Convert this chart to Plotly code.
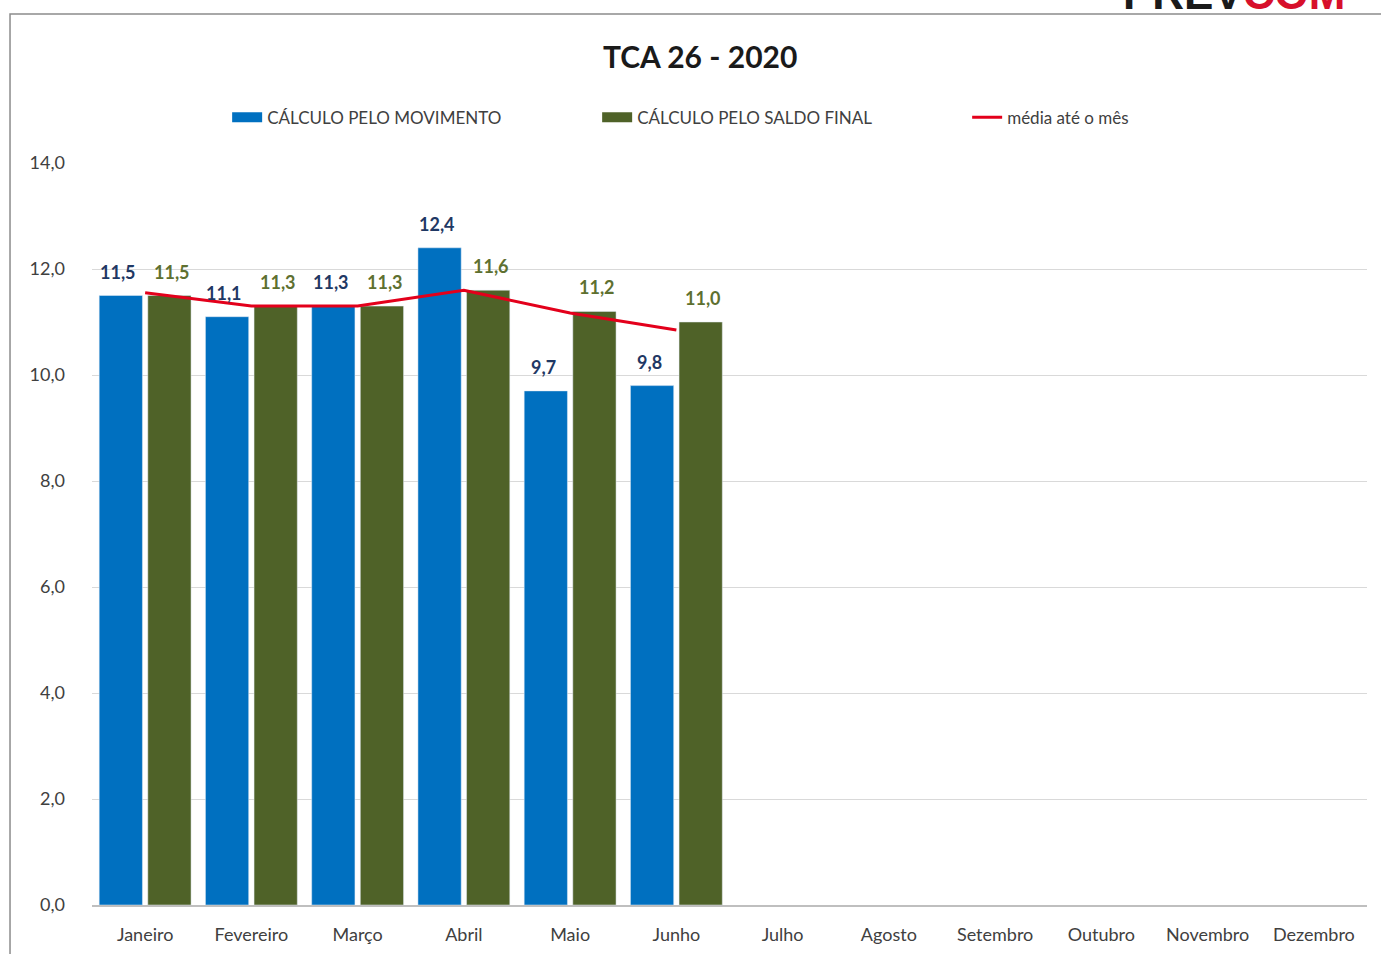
import plotly.graph_objects as go

meses = ["Janeiro", "Fevereiro", "Março", "Abril", "Maio", "Junho",
         "Julho", "Agosto", "Setembro", "Outubro", "Novembro", "Dezembro"]
movimento = [11.5, 11.1, 11.3, 12.4, 9.7, 9.8]
saldo_final = [11.5, 11.3, 11.3, 11.6, 11.2, 11.0]
media = [11.55, 11.3, 11.3, 11.6, 11.17, 10.85]

FONT = "Lato"
AZUL = "#0070C0"
VERDE = "#4F6228"
VERMELHO = "#E3001B"


def fmt(v):
    return f"{v:.1f}".replace(".", ",")


fig = go.Figure()
fig.add_trace(go.Bar(
    x=meses[:len(movimento)], y=movimento, name="CÁLCULO PELO MOVIMENTO",
    marker_color=AZUL, showlegend=False,
))
fig.add_trace(go.Bar(
    x=meses[:len(saldo_final)], y=saldo_final, name="CÁLCULO PELO SALDO FINAL",
    marker_color=VERDE, showlegend=False,
))
fig.add_trace(go.Scatter(
    x=meses[:len(media)], y=media, name="média até o mês", mode="lines",
    line=dict(color=VERMELHO, width=3), showlegend=False,
))

# rótulos de dados acima das barras
for serie, cor, desloc in [(movimento, "#1F3864", -27), (saldo_final, "#5E7030", 27)]:
    for mes, v in zip(meses, serie):
        fig.add_annotation(x=mes, y=v, xshift=desloc, yshift=24,
                           xanchor="center", yanchor="middle", showarrow=False,
                           text=f"<b>{fmt(v)}</b>",
                           font=dict(family=FONT, size=18, color=cor))

# entradas de legenda (retângulos largos como no Excel)
fig.add_trace(go.Scatter(x=[None], y=[None], mode="lines", name="CÁLCULO PELO MOVIMENTO",
                         line=dict(color=AZUL, width=11)))
fig.add_trace(go.Scatter(x=[None], y=[None], mode="lines", name="CÁLCULO PELO SALDO FINAL",
                         line=dict(color=VERDE, width=11)))
fig.add_trace(go.Scatter(x=[None], y=[None], mode="lines", name="média até o mês",
                         line=dict(color=VERMELHO, width=3)))

# moldura do gráfico
fig.add_shape(type="rect", xref="paper", yref="paper",
              x0=-0.0643, x1=1.05, y0=-0.2, y1=1.2008,
              line=dict(color="#8c8c8c", width=1.5), layer="below")

# logotipo cortado no topo
fig.add_annotation(xref="paper", yref="paper", x=0.984, y=1.193,
                   xanchor="right", yanchor="bottom", showarrow=False,
                   text="<b><span style='color:#1a1a1a'>PREV</span>"
                        "<span style='color:#d7102b'>COM</span></b>",
                   font=dict(family="Liberation Sans", size=44))

fig.update_layout(
    width=1381, height=954,
    paper_bgcolor="white", plot_bgcolor="white",
    separators=",.",
    title=dict(text="<b>TCA 26 - 2020</b>", x=0.507, xanchor="center",
               y=0.94, yanchor="middle",
               font=dict(family=FONT, size=30, color="#1a1a1a")),
    barmode="group", bargap=0.085, bargroupgap=0.11,
    margin=dict(l=92, r=14, t=163, b=49),
    font=dict(family=FONT, size=16, color="#404040"),
    legend=dict(orientation="h", x=0.106, xanchor="left", y=1.061,
                yanchor="middle", font=dict(family=FONT, size=17, color="#404040"),
                itemwidth=30, entrywidthmode="pixels", entrywidth=325,
                tracegroupgap=0),
    showlegend=True,
)
fig.update_xaxes(categoryorder="array", categoryarray=meses,
                 range=[-0.5, 11.5], showgrid=False, showline=True,
                 linecolor="#bfbfbf", linewidth=2, ticks="",
                 ticklabelstandoff=12, automargin=False,
                 tickfont=dict(family=FONT, size=18, color="#404040"))
fig.update_yaxes(range=[0, 14], dtick=2, tickformat=".1f",
                 showgrid=True, gridcolor="#d9d9d9", gridwidth=1,
                 zeroline=False, ticklabelstandoff=26, automargin=False,
                 tickfont=dict(family=FONT, size=18, color="#404040"))

fig.write_html("out.html", config={"displayModeBar": False},
               post_script="document.body.style.margin='0';")
